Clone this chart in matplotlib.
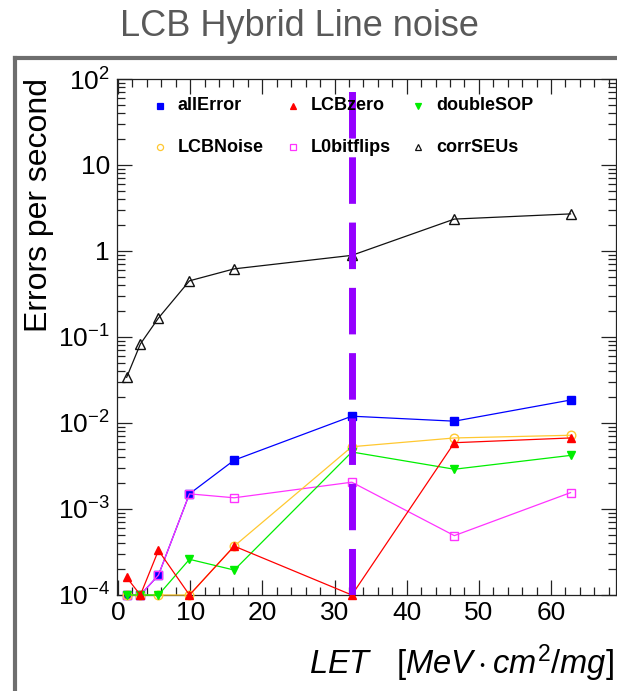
import matplotlib
matplotlib.use("Agg")
import matplotlib.pyplot as plt
from matplotlib.lines import Line2D
from matplotlib.ticker import FixedLocator, LogLocator, FuncFormatter, MultipleLocator, NullFormatter

plt.rcParams['font.family'] = ['Liberation Sans', 'DejaVu Sans']
plt.rcParams['mathtext.fontset'] = 'custom'
plt.rcParams['mathtext.rm'] = 'Liberation Sans'
plt.rcParams['mathtext.it'] = 'Liberation Sans:italic'
plt.rcParams['mathtext.bf'] = 'Liberation Sans:bold'

# ---- data ----
let_values = [1.2, 3.1, 5.6, 9.9, 16.1, 32.4, 46.6, 62.7]
all_error = [1e-4, 1e-4, 1.7e-4, 1.5e-3, 3.7e-3, 0.012, 0.0105, 0.0185]
lcb_zero = [1.6e-4, 1e-4, 3.3e-4, 1e-4, 3.7e-4, 1e-4, 5.9e-3, 6.7e-3]
double_sop = [1e-4, 1e-4, 1e-4, 2.6e-4, 1.95e-4, 4.6e-3, 2.9e-3, 4.2e-3]
lcb_noise = [1e-4, 1e-4, 1e-4, 1e-4, 3.7e-4, 5.3e-3, 6.7e-3, 7.2e-3]
l0_bitflips = [1e-4, 1e-4, 1.7e-4, 1.5e-3, 1.35e-3, 2.05e-3, 4.9e-4, 1.55e-3]
corr_seus = [0.034, 0.083, 0.166, 0.45, 0.62, 0.89, 2.35, 2.7]
threshold_let = 32.4

series_names = ["allError", "LCBzero", "doubleSOP", "LCBNoise", "L0bitflips", "corrSEUs"]
x_ticks = [0, 10, 20, 30, 40, 50, 60]

W, H = 617, 691
fig = plt.figure(figsize=(W / 100, H / 100), dpi=100)
fig.patch.set_facecolor("white")

# outer grey frame (slide border)
fig.add_artist(Line2D([15 / W, 15 / W], [0, 1 - 58 / H], color="#6e6e6e", lw=3, transform=fig.transFigure))
fig.add_artist(Line2D([15 / W, 1.0], [1 - 58 / H, 1 - 58 / H], color="#6e6e6e", lw=3, transform=fig.transFigure))

ax = fig.add_axes([117 / W, 1 - 595 / H, 499 / W, 516 / H])
ax.set_yscale("log")
ax.set_xlim(-0.14, 69.0)
ax.set_ylim(1e-4, 1e2)

styles = [
    (all_error, "#0000ff", "s", True, 5.8, 2),
    (lcb_zero, "#ff0000", "^", True, 5.4, 6),
    (double_sop, "#00ee00", "v", True, 5.4, 5),
    (lcb_noise, "#ffc830", "o", False, 6.2, 4),
    (l0_bitflips, "#ff33ff", "s", False, 6.0, 3),
    (corr_seus, "#111111", "^", False, 7.6, 7),
]
lw_series = 0.9
for (vals, col, mk, filled, ms, z) in styles:
    ax.plot(let_values, vals, color=col, lw=lw_series, zorder=z, clip_on=False,
            marker=mk, markersize=ms,
            markerfacecolor=col if filled else "none",
            markeredgecolor=col, markeredgewidth=1.0)

# vertical dashed threshold line
vl, = ax.plot([threshold_let, threshold_let], [1e-4, 1e2], color="#9400ff", lw=5.0, zorder=10,
              solid_capstyle="butt", dash_capstyle="butt")
vl.set_dashes([6.7, 2.7])

# ticks
ax.xaxis.set_major_locator(FixedLocator(x_ticks))
ax.xaxis.set_minor_locator(MultipleLocator(2))
ax.yaxis.set_major_locator(LogLocator(base=10, numticks=20))
ax.yaxis.set_minor_locator(LogLocator(base=10, subs=[2, 3, 4, 5, 6, 7, 8, 9], numticks=20))
ax.yaxis.set_minor_formatter(NullFormatter())


def yfmt(v, pos):
    import math
    e = int(round(math.log10(v)))
    if e == 0:
        return "1"
    if e == 1:
        return "10"
    return r"$\mathregular{10^{%d}}$" % e


ax.yaxis.set_major_formatter(FuncFormatter(yfmt))
ax.tick_params(which="both", direction="in", top=True, right=True, width=0.9, color="#222222")
ax.tick_params(which="major", length=11)
ax.tick_params(which="minor", length=5.8)
ax.tick_params(axis="x", which="major", labelsize=19, pad=4)
ax.tick_params(axis="y", which="major", labelsize=19, pad=5)
for s in ax.spines.values():
    s.set_linewidth(0.9)
    s.set_color("#222222")

# legend (ROOT style, markers only, no frame)
legend_cols_marker = [160, 293, 418]
legend_rows = [106, 147]
legend_markers = [
    ("#0000ff", "s", True), ("#ff0000", "^", True), ("#00ee00", "v", True),
    ("#ffc830", "o", False), ("#ff33ff", "s", False), ("#111111", "^", False),
]
for i, name in enumerate(series_names):
    r, c = divmod(i, 3)
    mx = legend_cols_marker[c] / W
    my = 1 - legend_rows[r] / H
    col, mk, filled = legend_markers[i]
    fig.add_artist(Line2D([mx], [my], transform=fig.transFigure, marker=mk, markersize=4.4,
                          markerfacecolor=col if filled else "none", markeredgecolor=col,
                          markeredgewidth=0.9, linestyle="none"))
    fig.text(mx + 18 / W, my, name, fontsize=13, fontweight="bold", ha="left", va="center", color="black")

# titles
fig.text(299 / W, 1 - 27 / H, "LCB Hybrid Line noise", fontsize=26, color="#595959", ha="center", va="center")
fig.text(39 / W, 1 - 78 / H, "Errors per second", fontsize=23, rotation=90, ha="center", va="top")
fig.text(614 / W, 1 - 663 / H, r"$LET\ \ \ [MeV\cdot cm^{2}/mg]$", fontsize=23.5, ha="right", va="center")

fig.savefig("out.png", dpi=100)
